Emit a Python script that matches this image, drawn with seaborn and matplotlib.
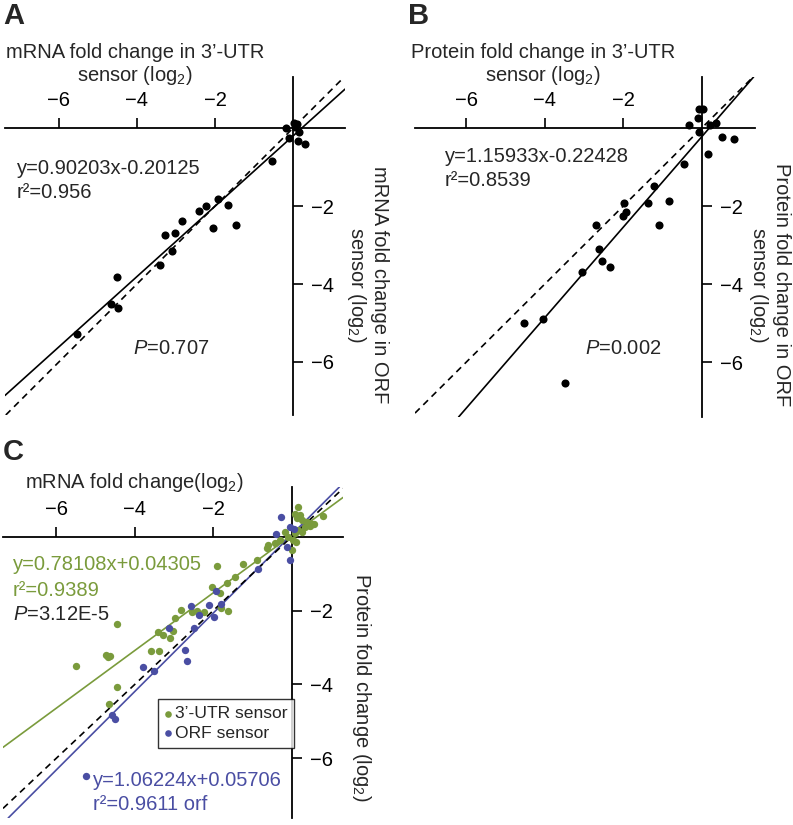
"""
Fold change scatter plots (3'-UTR sensor vs ORF sensor), panels A, B and C.
"""

import matplotlib
matplotlib.use("Agg")
import matplotlib.pyplot as plt
import seaborn as sns

sns.set_style("white")
plt.rcParams['font.family'] = ['Liberation Sans', 'DejaVu Sans']
plt.rcParams['mathtext.fontset'] = 'custom'
plt.rcParams['mathtext.rm'] = 'Liberation Sans'
plt.rcParams['mathtext.it'] = 'Liberation Sans:italic'

# Panel A: mRNA fold change, 3'-UTR sensor (x) vs ORF sensor (y)
a_x = [-0.18, 0.03, 0.10, 0.15, -0.10, 0.13, 0.31, 0.06, -0.55, -1.92, -2.24,
       -2.41, -1.67, -1.45, -2.06, -2.84, -3.03, -3.29, -3.10, -3.40, -4.50,
       -4.67, -4.49, -5.54]
a_y = [0.00, 0.13, 0.10, -0.10, -0.25, -0.33, -0.41, 0.02, -0.84, -1.83, -1.99,
       -2.13, -1.97, -2.49, -2.57, -2.38, -2.70, -2.74, -3.15, -3.51, -3.81,
       -4.51, -4.62, -5.28]
a_fit = (0.90203, -0.20125)

# Panel B: protein fold change, 3'-UTR sensor (x) vs ORF sensor (y)
b_x = [-0.06, 0.04, -0.10, -0.33, 0.21, 0.36, -0.08, 0.53, 0.82, 0.17, -0.44,
       -1.22, -1.98, -1.36, -0.83, -1.94, -2.00, -2.70, -1.08, -2.62, -2.54,
       -2.33, -3.06, -4.05, -4.52, -3.49]
b_y = [0.49, 0.49, 0.26, 0.08, 0.08, 0.13, -0.11, -0.22, -0.27, -0.67, -0.91,
       -1.48, -1.91, -1.91, -1.87, -2.15, -2.26, -2.49, -2.49, -3.11, -3.40,
       -3.57, -3.68, -4.89, -5.00, -6.55]
b_fit = (1.15933, -0.22428)

# Panel C: mRNA fold change (x) vs protein fold change (y)
c_utr_x = [0.17, 0.08, 0.21, 0.13, 0.26, 0.38, 0.51, 0.47, 0.34, 0.17, 0.26,
           0.08, -0.17, -0.30, -0.43, -0.60, -0.64, 0.00, 0.04, 0.11, 0.81,
           0.57, -0.09, -0.89, -1.23, -1.90, -1.45, -1.66, -2.04, -1.83, -2.83,
           -2.55, -2.41, -2.24, -1.63, -2.98, -1.81, -4.46, -5.50, -4.74, -4.68,
           -4.63, -4.46, -4.65, -3.59, -3.38, -3.42, -3.28, -3.09, -3.02]
c_utr_y = [0.81, 0.63, 0.59, 0.50, 0.45, 0.41, 0.36, 0.29, 0.27, 0.18, 0.14,
           0.09, 0.14, -0.09, -0.18, -0.22, -0.31, -0.36, -0.09, -0.14, 0.56,
           0.34, 0.00, -0.63, -0.74, -0.79, -1.10, -1.25, -1.37, -1.53, -1.97,
           -2.03, -2.00, -2.03, -2.00, -2.19, -1.94, -2.35, -3.50, -3.19, -3.25,
           -3.23, -4.08, -4.53, -3.10, -3.09, -2.59, -2.65, -2.74, -2.56]
c_orf_x = [-0.26, -0.04, -0.40, -0.11, -0.03, 0.05, -0.85, -1.93, -2.57, -2.10,
           -1.79, -2.36, -1.97, -3.12, -2.48, -2.72, -2.68, -3.79, -3.50, -4.59,
           -4.50, -5.25]
c_orf_y = [0.53, 0.27, 0.07, -0.27, -0.63, 0.20, -0.86, -1.46, -1.88, -1.85,
           -1.82, -2.12, -2.18, -2.46, -2.46, -3.07, -3.36, -3.54, -3.63, -4.83,
           -4.95, -6.49]
c_utr_fit = (0.78108, 0.04305)
c_orf_fit = (1.06224, 0.05706)

GREEN = '#7a9b3c'
BLUE = '#4a4ea3'
W, H = 793, 825
FS = 14.5


def px(x, y):
    """Pixel position -> figure fraction."""
    return x / W, 1 - y / H


def ftext(fig, x, y, s, **kw):
    kw.setdefault('va', 'center')
    kw.setdefault('fontsize', FS)
    fig.text(*px(x, y), s, **kw)


def setup_axes(ax, xlim, ylim):
    ax.set_xlim(xlim)
    ax.set_ylim(ylim)
    ax.spines['top'].set_position(('data', 0))
    ax.spines['right'].set_position(('data', 0))
    ax.spines['bottom'].set_visible(False)
    ax.spines['left'].set_visible(False)
    for s in ('top', 'right'):
        ax.spines[s].set_linewidth(1.3)
        ax.spines[s].set_color('black')
    ax.xaxis.set_ticks_position('top')
    ax.yaxis.set_ticks_position('right')
    ax.set_xticks([-6, -4, -2])
    ax.set_yticks([-2, -4, -6])
    ax.tick_params(direction='out', length=7, width=1.2, pad=6,
                   labelsize=FS, colors='black')
    ax.set(xlabel='', ylabel='')
    ax.patch.set_alpha(0)


fig = plt.figure(figsize=(W / 100, H / 100), dpi=100)

# ---- Panel A
ax_a = fig.add_axes([5 / W, 1 - 415 / H, 340 / W, 338 / H])
sns.scatterplot(x=a_x, y=a_y, ax=ax_a, color='black', s=34, linewidth=0, zorder=3)
ax_a.axline((0, a_fit[1]), slope=a_fit[0], color='black', lw=1.2)
ax_a.axline((0, 0), slope=1, color='black', lw=1.2, ls=(0, (4, 3)))
setup_axes(ax_a, (-7.38, 1.33), (-7.36, 1.31))

# ---- Panel B
ax_b = fig.add_axes([415 / W, 1 - 417 / H, 340 / W, 340 / H])
sns.scatterplot(x=b_x, y=b_y, ax=ax_b, color='black', s=34, linewidth=0, zorder=3)
ax_b.axline((0, b_fit[1]), slope=b_fit[0], color='black', lw=1.2)
ax_b.axline((0, 0), slope=1, color='black', lw=1.2, ls=(0, (4, 3)))
setup_axes(ax_b, (-7.31, 1.36), (-7.41, 1.31))

# ---- Panel C
ax_c = fig.add_axes([3 / W, 1 - 818 / H, 340 / W, 331 / H])
sns.scatterplot(x=c_utr_x, y=c_utr_y, ax=ax_c, color=GREEN, s=28, linewidth=0,
                label='3’-UTR sensor', zorder=3)
sns.scatterplot(x=c_orf_x, y=c_orf_y, ax=ax_c, color=BLUE, s=28, linewidth=0,
                label='ORF sensor', zorder=3)
ax_c.axline((0, c_utr_fit[1]), slope=c_utr_fit[0], color=GREEN, lw=1.2)
ax_c.axline((0, c_orf_fit[1]), slope=c_orf_fit[0], color=BLUE, lw=1.2)
ax_c.axline((0, 0), slope=1, color='black', lw=1.2, ls=(0, (4, 3)))
setup_axes(ax_c, (-7.36, 1.31), (-7.62, 1.35))
leg = ax_c.legend(loc='upper left', bbox_to_anchor=px(158, 699),
                  bbox_transform=fig.transFigure, fontsize=12.6,
                  frameon=True, fancybox=False, borderpad=0.4,
                  handlelength=0.3, handletextpad=0.25, labelspacing=0.25,
                  borderaxespad=0, markerscale=0.9)
leg.get_frame().set_edgecolor('black')
leg.get_frame().set_linewidth(1.0)

# ---- Texts
ftext(fig, 3, 16, 'A', fontsize=21, fontweight='bold')
ftext(fig, 408, 16, 'B', fontsize=21, fontweight='bold')
ftext(fig, 3, 452, 'C', fontsize=21, fontweight='bold')

ftext(fig, 135, 65, 'mRNA fold change in 3’-UTR\nsensor (log$_2$)',
      ha='center', linespacing=1.1)
ftext(fig, 543, 65, 'Protein fold change in 3’-UTR\nsensor (log$_2$)',
      ha='center', linespacing=1.1)
ftext(fig, 134, 482, 'mRNA fold change(log$_2$)', ha='center')

ftext(fig, 367, 285, 'mRNA fold change in ORF\nsensor (log$_2$)',
      ha='center', rotation=-90, linespacing=1.1)
ftext(fig, 769, 285, 'Protein fold change in ORF\nsensor (log$_2$)',
      ha='center', rotation=-90, linespacing=1.1)
ftext(fig, 361, 687, 'Protein fold change (log$_2$)', ha='center', rotation=-90)

ftext(fig, 17, 168, 'y=0.90203x-0.20125')
ftext(fig, 17, 192, 'r²=0.956')
ftext(fig, 133, 348, '$P$=0.707')

ftext(fig, 445, 157, 'y=1.15933x-0.22428')
ftext(fig, 445, 180, 'r²=0.8539')
ftext(fig, 585, 348, '$P$=0.002')

ftext(fig, 13, 565, 'y=0.78108x+0.04305', color=GREEN)
ftext(fig, 13, 590, 'r²=0.9389', color=GREEN)
ftext(fig, 13, 615, '$P$=3.12E-5')
ftext(fig, 93, 780, 'y=1.06224x+0.05706', color=BLUE)
ftext(fig, 93, 805, 'r²=0.9611 orf', color=BLUE)

fig.savefig('out.png', dpi=100)
